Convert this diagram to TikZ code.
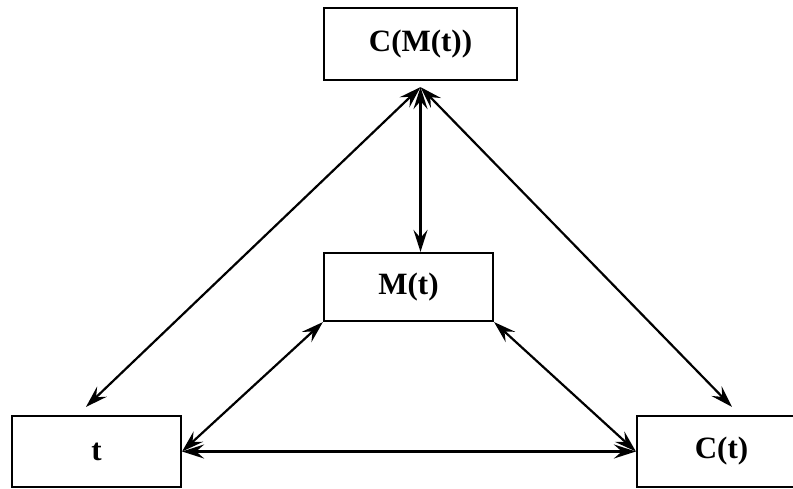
\documentclass[tikz,border=0pt]{standalone}
\usepackage{fontspec}
\setmainfont{Liberation Serif}
\usetikzlibrary{arrows.meta,calc}
\tikzset{
  box/.style={draw, line width=2.2pt, inner sep=0pt, font=\fontsize{31}{36}\selectfont\bfseries},
  link/.style={line width=2.2pt, {Stealth[length=22pt,width=14pt,inset=8pt]}-{Stealth[length=22pt,width=14pt,inset=8pt]}}
}
\begin{document}
\begin{tikzpicture}[x=1pt,y=-1pt]
  \useasboundingbox (0,0) rectangle (793,489);
  \node[box, minimum width=193pt, minimum height=72pt] (CMt) at (420.5,44) {C(M(t))};
  \node[box, minimum width=169pt, minimum height=68pt] (Mt) at (408.5,287) {M(t)};
  \node[box, minimum width=169pt, minimum height=71pt] (t) at (96.5,451.5) {t};
  \node[box, minimum width=169pt, minimum height=71pt] (Ct) at (721.5,451.5) {C(t)};
  % meeting point of the three arrows under the top box
  \coordinate (hub) at ($(CMt.south)+(0,6)$);
  \coordinate (tTop) at ($(t.north)+(-10.5,-8)$);
  \coordinate (CtTop) at ($(Ct.north)+(10.5,-8)$);
  \draw[link] (hub) -- (tTop);
  \draw[link] (hub) -- (Mt.north -| hub);
  \draw[link] (hub) -- (CtTop);
  \draw[link] (Mt.south west) -- (t.east);
  \draw[link] (Mt.south east) -- (Ct.west);
  \draw[link] (t.east) -- (Ct.west);
\end{tikzpicture}
\end{document}
